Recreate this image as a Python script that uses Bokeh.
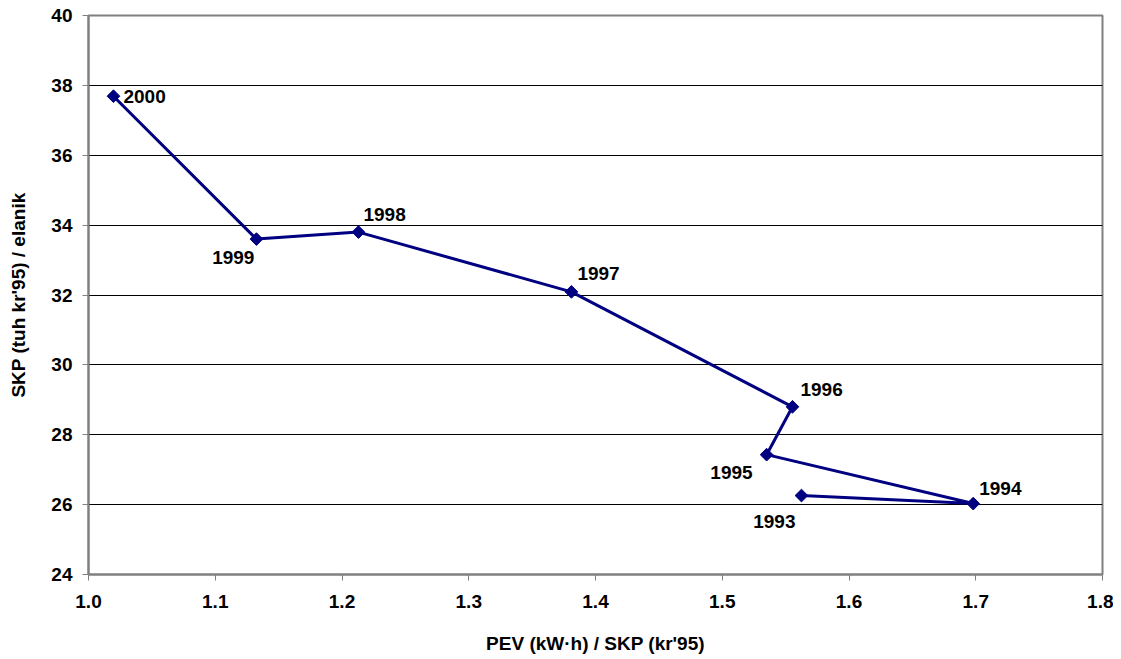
import math
from bokeh.plotting import figure
from bokeh.models import Range1d, FixedTicker, PrintfTickFormatter, ColumnDataSource, LabelSet
from bokeh.core.properties import value
from bokeh.embed import file_html
from bokeh.resources import INLINE

years = ["1993", "1994", "1995", "1996", "1997", "1998", "1999", "2000"]
pev_per_skp = [1.5625, 1.698, 1.535, 1.5554, 1.381, 1.213, 1.1325, 1.0197]
skp_per_capita = [26.26, 26.03, 27.43, 28.80, 32.09, 33.80, 33.60, 37.69]

x_ticks = [1.0, 1.1, 1.2, 1.3, 1.4, 1.5, 1.6, 1.7, 1.8]
y_ticks = [24, 26, 28, 30, 32, 34, 36, 38, 40]

# label placement (pixel offsets, style only)
lab_dx = [-6, 6, -14, 8, 6, 5, -2, 10]
lab_dy = [-26, 15, -18, 17, 18, 18, -18, 0]
lab_align = ["right", "left", "right", "left", "left", "left", "right", "left"]

FONT = "Liberation Sans"

p = figure(width=1113, height=656, output_backend="svg", toolbar_location=None,
           x_range=Range1d(1.0, 1.8), y_range=Range1d(24, 40),
           min_border_left=88, min_border_right=11, min_border_top=15, min_border_bottom=10)

p.outline_line_color = "#808080"
p.outline_line_width = 2
p.background_fill_color = "white"

p.xgrid.grid_line_color = None
p.ygrid.grid_line_color = "black"
p.ygrid.grid_line_width = 1
p.ygrid.ticker = FixedTicker(ticks=y_ticks)

p.xaxis.ticker = FixedTicker(ticks=x_ticks)
p.yaxis.ticker = FixedTicker(ticks=y_ticks)
p.xaxis.formatter = PrintfTickFormatter(format="%.1f")
p.yaxis.formatter = PrintfTickFormatter(format="%d")

for ax in (p.xaxis[0], p.yaxis[0]):
    ax.axis_line_color = "#808080"
    ax.axis_line_width = 2
    ax.major_tick_line_color = "#808080"
    ax.major_tick_line_width = 1
    ax.major_tick_out = 6
    ax.major_tick_in = 0
    ax.minor_tick_line_color = None
    ax.major_label_text_font = FONT
    ax.major_label_text_font_style = "bold"
    ax.major_label_text_font_size = "19px"
    ax.major_label_text_color = "black"
    ax.axis_label_text_font = FONT
    ax.axis_label_text_font_style = "bold"
    ax.axis_label_text_font_size = "19px"
    ax.axis_label_text_color = "black"

p.xaxis.axis_label = "PEV (kW·h) / SKP (kr'95)"
p.yaxis.axis_label = "SKP (tuh kr'95) / elanik"
p.xaxis.major_label_standoff = 14
p.xaxis.axis_label_standoff = 22
p.yaxis.major_label_standoff = 10
p.yaxis.axis_label_standoff = 19

src = ColumnDataSource(dict(x=pev_per_skp, y=skp_per_capita, year=years,
                            dx=lab_dx, dy=lab_dy, align=lab_align))

p.line("x", "y", source=src, line_color="#000080", line_width=3)
p.scatter("x", "y", source=src, marker="square", angle=math.pi / 4, size=9,
          fill_color="#000080", line_color="#000080", line_width=1)

labels = LabelSet(x="x", y="y", text="year", source=src, x_offset="dx", y_offset="dy",
                  text_align="align", text_baseline="middle",
                  text_font=value(FONT), text_font_style="bold", text_font_size="19px",
                  text_color="black")
p.add_layout(labels)

open("out.html", "w").write(file_html(p, INLINE))
